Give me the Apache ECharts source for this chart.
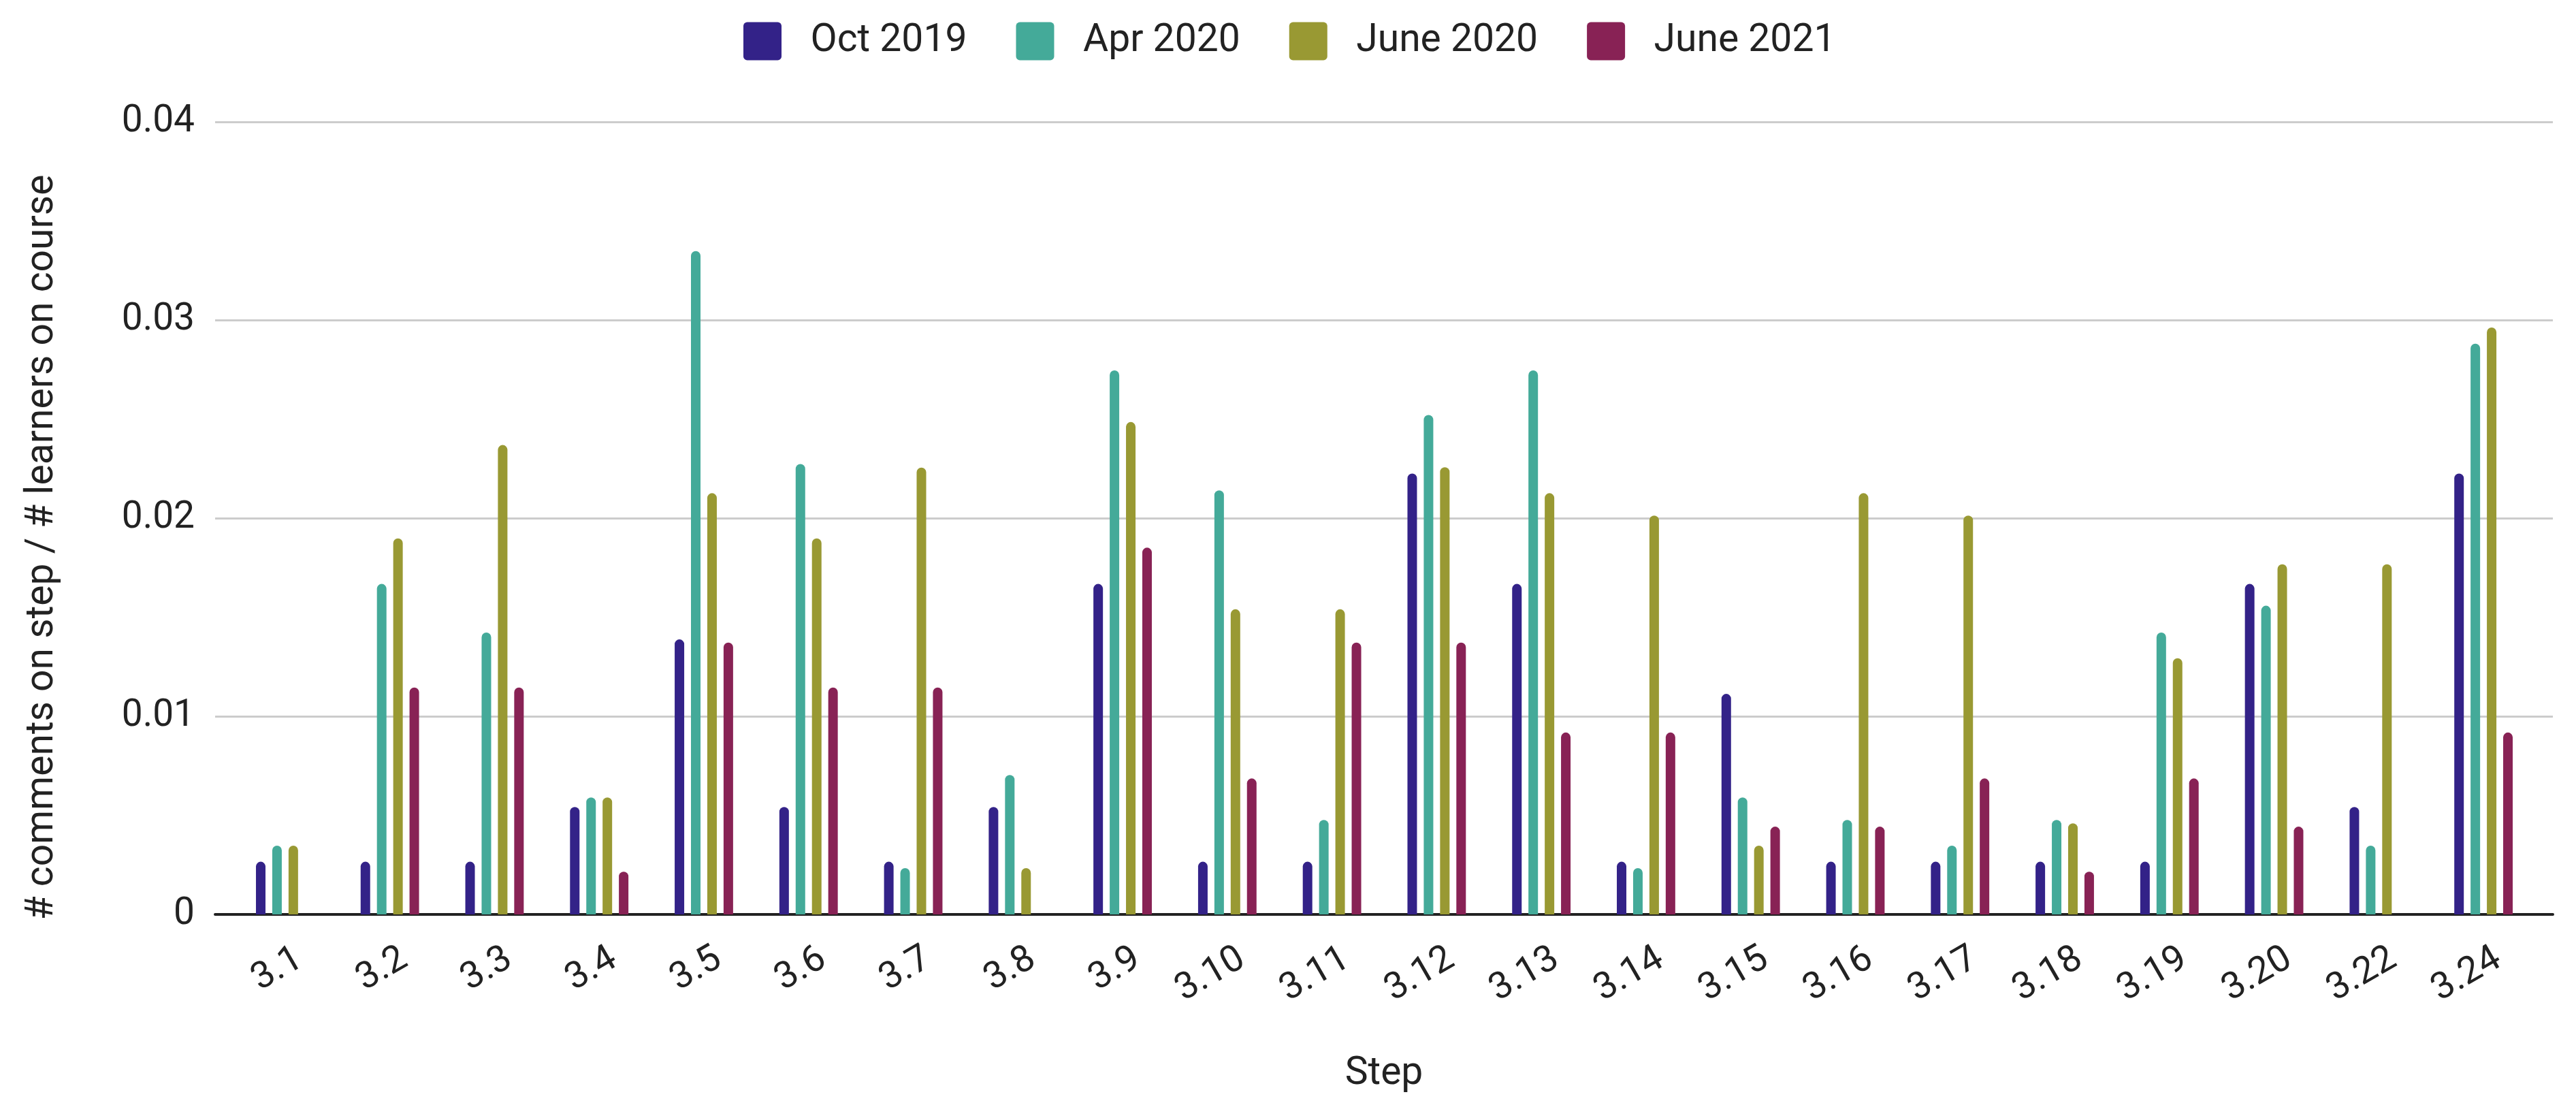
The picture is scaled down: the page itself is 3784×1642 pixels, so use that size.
<!DOCTYPE html>
<html><head><meta charset="utf-8">
<script src="https://cdn.jsdelivr.net/npm/echarts@6/dist/echarts.min.js"></script>
<style>html,body{margin:0;padding:0;background:#fff}#c{width:3784px;height:1642px}</style>
</head><body><div id="c"></div>
<script>
const categories = ['3.1','3.2','3.3','3.4','3.5','3.6','3.7','3.8','3.9','3.10','3.11','3.12','3.13','3.14','3.15','3.16','3.17','3.18','3.19','3.20','3.22','3.24'];
const seriesNames = ['Oct 2019','Apr 2020','June 2020','June 2021'];
const oct2019 = [0.00266,0.00266,0.00266,0.00542,0.01388,0.00542,0.00266,0.00542,0.01668,0.00266,0.00266,0.02225,0.01668,0.00266,0.01113,0.00266,0.00266,0.00266,0.00266,0.01668,0.00542,0.02225];
const apr2020 = [0.00347,0.01668,0.01423,0.0059,0.03348,0.02273,0.00234,0.00704,0.02746,0.0214,0.00477,0.02521,0.02746,0.00234,0.0059,0.00477,0.00347,0.00477,0.01423,0.01558,0.00347,0.02881];
const june2020 = [0.00347,0.01898,0.02369,0.0059,0.02126,0.01898,0.02255,0.00234,0.02485,0.0154,0.0154,0.02257,0.02126,0.02013,0.00347,0.02126,0.02013,0.0046,0.01293,0.01767,0.01767,0.02962];
const june2021 = [0,0.01145,0.01145,0.00216,0.01372,0.01145,0.01145,0,0.01851,0.00686,0.01372,0.01372,0.00918,0.00918,0.00443,0.00443,0.00686,0.00216,0.00686,0.00443,0,0.00918];
const yTicks = {min: 0, max: 0.04, interval: 0.01};
const colors = ['#332288','#44AA99','#999933','#882255'];

const FONT = 'Roboto';
const FS = 55;
const FS_BIG = 57;
const TXT = '#222222';
const LABEL_DX = 22;

const chart = echarts.init(document.getElementById('c'), null, {renderer: 'canvas'});
const allData = [oct2019, apr2020, june2020, june2021];
const iconPath = 'path://M1,0 H9 A1,1 0 0 1 10,1 V9 A1,1 0 0 1 9,10 H1 A1,1 0 0 1 0,9 V1 A1,1 0 0 1 1,0 Z';

chart.setOption({
  animation: false,
  color: colors,
  textStyle: {fontFamily: FONT},
  legend: {
    left: 1087, top: 27,
    itemWidth: 57, itemHeight: 56, itemGap: 72,
    icon: iconPath,
    textStyle: {fontSize: FS_BIG, color: TXT, fontFamily: FONT, padding: [0,0,0,37]},
    data: seriesNames
  },
  grid: [
    {left: 316, right: 34, top: 179, bottom: 299},
    {left: 342, right: 59, top: 179, bottom: 299},
    {left: 342 + LABEL_DX, right: 59 - LABEL_DX, top: 179, bottom: 299}
  ],
  xAxis: [
    {gridIndex: 0, type: 'value', min: 0, max: 1,
     axisLine: {show: true, lineStyle: {color: '#222', width: 4}},
     axisTick: {show: false}, axisLabel: {show: false}, splitLine: {show: false},
     name: 'Step', nameLocation: 'middle', nameGap: 206,
     nameTextStyle: {fontSize: FS_BIG, color: TXT, fontFamily: FONT}},
    {gridIndex: 1, type: 'category', data: categories, boundaryGap: true,
     axisLine: {show: false}, axisTick: {show: false}, axisLabel: {show: false}},
    {gridIndex: 2, type: 'category', data: categories, boundaryGap: true,
     axisLine: {show: false}, axisTick: {show: false},
     axisLabel: {show: true, interval: 0, rotate: 30, margin: 62, fontSize: FS, color: TXT, fontFamily: FONT,
                 align: 'right', verticalAlign: 'middle'}}
  ],
  yAxis: [
    {gridIndex: 0, type: 'value', min: yTicks.min, max: yTicks.max, interval: yTicks.interval,
     axisLine: {show: false}, axisTick: {show: false},
     axisLabel: {margin: 30, fontSize: FS, color: TXT, fontFamily: FONT},
     splitLine: {lineStyle: {color: '#cccccc', width: 3}},
     name: '# comments on step / # learners on course', nameLocation: 'middle', nameGap: 225,
     nameTextStyle: {fontSize: FS_BIG, color: TXT, fontFamily: FONT, padding: [0, 86, 0, 0]}},
    {gridIndex: 1, type: 'value', min: yTicks.min, max: yTicks.max, interval: yTicks.interval, show: false},
    {gridIndex: 2, type: 'value', min: yTicks.min, max: yTicks.max, interval: yTicks.interval, show: false}
  ],
  series: seriesNames.map((n, i) => ({
    name: n, type: 'bar', xAxisIndex: 1, yAxisIndex: 1,
    data: allData[i], barWidth: 14, barGap: '71%',
    itemStyle: {color: colors[i], borderRadius: [7,7,0,0]}
  }))
});
</script></body></html>
